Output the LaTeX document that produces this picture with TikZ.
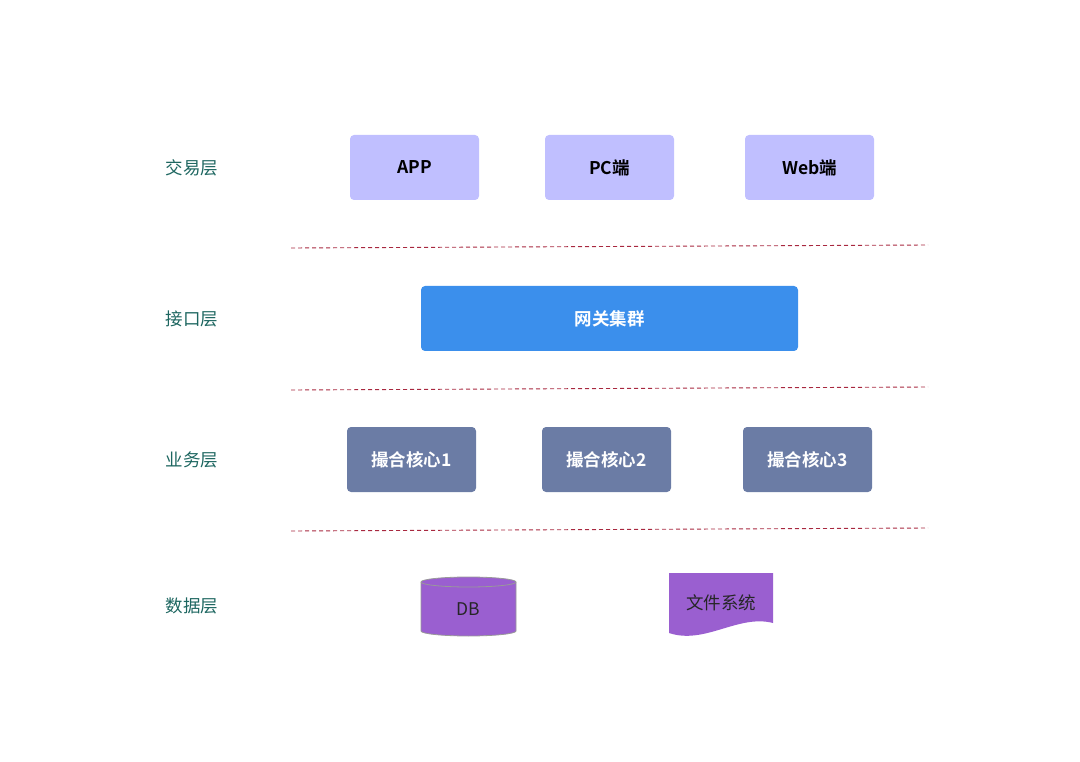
\documentclass[tikz,border=0pt]{standalone}
\usepackage{fontspec}
\setmainfont{Noto Sans CJK SC}[BoldFont={Noto Sans CJK SC Bold}]
\definecolor{labelc}{HTML}{1D6660}
\definecolor{tradec}{HTML}{C0BFFF}
\definecolor{gatec}{HTML}{3B8FEC}
\definecolor{corec}{HTML}{6B7CA5}
\definecolor{datac}{HTML}{9A5FD0}
\definecolor{dashc}{HTML}{A8283F}
\begin{document}
\begin{tikzpicture}[x=1pt,y=-1pt,
  layer/.style={text=labelc,font=\fontsize{17.5}{20}\selectfont},
  box/.style={rounded corners=4pt,minimum height=65pt,inner sep=0pt,font=\fontsize{17.5}{20}\selectfont\bfseries},
  tradebox/.style={box,fill=tradec,text=black,minimum width=129pt},
  corebox/.style={box,fill=corec,text=white,minimum width=129pt},
  sep/.style={draw=dashc,dashed,dash pattern=on 4pt off 3pt,line width=0.9pt}]
\useasboundingbox (0,0) rectangle (1080,762);
% layer labels
\node[layer] (l1) at (192,168) {交易层};
\node[layer] (l2) at (192,319) {接口层};
\node[layer] (l3) at (192,460) {业务层};
\node[layer] (l4) at (192,606) {数据层};
% trade layer
\node[tradebox] (app) at (414.5,167.5) {APP};
\node[tradebox] (pc) at (609.5,167.5) {PC端};
\node[tradebox] (web) at (809.5,167.5) {Web端};
% separators
\coordinate (s1a) at (291,248); \coordinate (s1b) at (928,245);
\coordinate (s2a) at (291,390); \coordinate (s2b) at (928,387);
\coordinate (s3a) at (291,531); \coordinate (s3b) at (928,528);
\draw[sep] (s1a) -- (s1b);
\draw[sep] (s2a) -- (s2b);
\draw[sep] (s3a) -- (s3b);
% gateway
\node[box,fill=gatec,text=white,minimum width=377pt] (gw) at (609.5,318.5) {网关集群};
% core layer
\node[corebox] (c1) at (411.5,459.5) {撮合核心1};
\node[corebox] (c2) at (606.5,459.5) {撮合核心2};
\node[corebox] (c3) at (807.5,459.5) {撮合核心3};
% DB cylinder
\draw[fill=datac,draw=gray!80,line width=0.8pt]
  (421,582) -- (421,631) arc[start angle=180,end angle=0,x radius=47.5,y radius=5]
  -- (516,582) arc[start angle=0,end angle=-180,x radius=47.5,y radius=5] -- cycle;
\draw[draw=gray!80,line width=0.8pt] (421,582) arc[start angle=180,end angle=0,x radius=47.5,y radius=5];
\node[font=\fontsize{17.5}{20}\selectfont,text=black!85] (db) at (468.5,609) {DB};
% file system document
\fill[datac] (669,573) -- (773,573) -- (773,623)
  .. controls (738,614) and (705,645) .. (669,633) -- cycle;
\node[font=\fontsize{17.5}{20}\selectfont,text=black!85] (fs) at (721,603) {文件系统};
\end{tikzpicture}
\end{document}
